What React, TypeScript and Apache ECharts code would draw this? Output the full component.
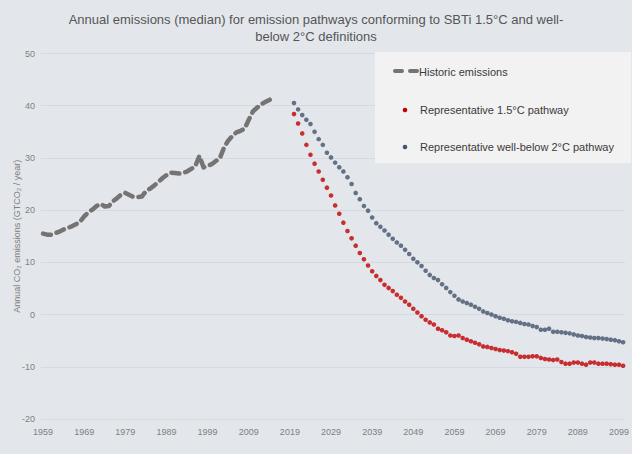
import React, { useEffect, useRef } from "react";
import * as echarts from "echarts";

const FIRST_YEAR = 1959;
const LAST_YEAR = 2100;
const HIST_START = 1959;
const PATH_START = 2020;

const titleLines = [
  "Annual emissions (median) for emission pathways conforming to SBTi 1.5°C and well-",
  "below 2°C definitions",
];
const yAxisName = "Annual CO₂ emissions (GTCO₂ / year)";
const legendNames = [
  "Historic emissions",
  "Representative 1.5°C pathway",
  "Representative well-below 2°C pathway",
];

// 1959 - 2015
const historic = [
  15.5, 15.3, 15.3, 15.6, 15.9, 16.3, 16.6, 16.9, 17.3, 17.8,
  18.8, 19.6, 20.1, 20.8, 21.2, 20.7, 20.8, 21.7, 22.3, 23.0,
  23.3, 22.9, 22.5, 22.5, 22.6, 23.6, 24.1, 24.7, 25.4, 26.1,
  26.7, 27.2, 27.1, 27.0, 27.1, 27.4, 27.9, 28.4, 30.4, 28.2,
  28.5, 28.8, 29.4, 30.0, 32.0, 33.3, 34.2, 34.9, 35.2, 35.6,
  37.3, 38.9, 39.6, 40.3, 40.7, 41.1, 41.6,
];

// 2020 - 2100
const pathway15 = [
  38.4, 36.6, 34.7, 32.5, 30.6, 28.9, 27.4, 25.8, 24.3, 22.8,
  20.9, 19.3, 17.6, 16.0, 14.6, 13.2, 11.8, 10.6, 9.4, 8.3,
  7.4, 6.6, 5.7, 5.1, 4.5, 3.8, 3.2, 2.5, 1.9, 1.1,
  0.4, -0.3, -1.0, -1.5, -1.9, -2.7, -3.0, -3.4, -4.0, -4.1,
  -4.0, -4.5, -4.8, -5.1, -5.4, -5.7, -6.1, -6.2, -6.4, -6.6,
  -6.8, -6.9, -7.0, -7.2, -7.5, -8.1, -8.1, -8.1, -8.0, -8.0,
  -8.3, -8.5, -8.6, -8.7, -8.6, -9.1, -9.4, -9.4, -9.2, -9.2,
  -9.4, -9.6, -9.2, -9.2, -9.4, -9.4, -9.4, -9.5, -9.6, -9.6,
  -9.8,
];

// 2020 - 2100
const pathwayWB2 = [
  40.5, 39.3, 38.2, 37.3, 36.5, 35.0, 33.6, 32.5, 31.0, 30.1,
  29.1, 28.2, 27.4, 26.3, 25.0, 23.3, 22.1, 20.8, 19.9, 18.6,
  17.5, 16.8, 16.1, 15.3, 14.5, 13.8, 13.2, 12.4, 11.6, 10.7,
  10.0, 9.3, 8.4, 7.6, 7.0, 6.6, 5.8, 5.1, 4.3, 3.6,
  2.9, 2.5, 2.2, 1.9, 1.5, 1.1, 0.6, 0.3, 0.0, -0.3,
  -0.6, -0.8, -1.1, -1.3, -1.4, -1.6, -1.8, -1.9, -2.2, -2.4,
  -2.9, -2.9, -2.7, -3.3, -3.3, -3.4, -3.5, -3.6, -3.8, -4.0,
  -4.1, -4.3, -4.4, -4.5, -4.5, -4.6, -4.7, -4.8, -4.9, -5.1,
  -5.3,
];

const years: string[] = [];
for (let y = FIRST_YEAR; y <= LAST_YEAR; y++) years.push(String(y));

const toPairs = (start: number, vals: number[]) =>
  vals.map((v, i) => [String(start + i), v]);

const COLORS = {
  bg: "#e3e7ec",
  grid: "#d5dae0",
  hist: "#767373",
  red: "#c00000",
  blue: "#44546a",
  text: "#555555",
  tick: "#808080",
  legendBg: "#f2f2f2",
  legendText: "#3a3a3a",
};

export default function App() {
  const ref = useRef<HTMLDivElement>(null);
  useEffect(() => {
    if (!ref.current) return;
    const chart = echarts.init(ref.current, undefined, { renderer: "svg" });
    const font = "'Liberation Sans', Arial, sans-serif";
    chart.setOption({
      animation: false,
      backgroundColor: COLORS.bg,
      textStyle: { fontFamily: font },
      title: {
        text: titleLines.join("\n"),
        left: "center",
        top: 6,
        textStyle: {
          fontFamily: font,
          fontSize: 13,
          fontWeight: "normal",
          color: COLORS.text,
          lineHeight: 17,
        },
      },
      grid: { left: 41, right: 5, top: 53.5, bottom: 35, containLabel: false },
      xAxis: {
        type: "category",
        data: years,
        boundaryGap: true,
        axisLine: { show: false },
        axisTick: { show: false },
        axisLabel: {
          interval: 9,
          color: COLORS.tick,
          fontSize: 9,
          margin: 8,
          fontFamily: font,
        },
        splitLine: { show: false },
      },
      yAxis: {
        type: "value",
        min: -20,
        max: 50,
        interval: 10,
        name: yAxisName,
        nameLocation: "middle",
        nameGap: 20,
        nameMoveOverlap: false,
        nameTextStyle: { color: COLORS.tick, fontSize: 9, fontFamily: font },
        axisLine: { show: false },
        axisTick: { show: false },
        axisLabel: { color: COLORS.tick, fontSize: 9, margin: 6, fontFamily: font },
        splitLine: { lineStyle: { color: COLORS.grid, width: 1 } },
      },
      series: [
        {
          name: legendNames[0],
          type: "line",
          data: toPairs(HIST_START, historic),
          showSymbol: false,
          symbol: "none",
          smooth: false,
          lineStyle: { color: COLORS.hist, width: 4.5, type: [8, 6], cap: "round", join: "round" },
          z: 3,
        },
        {
          name: legendNames[1],
          type: "scatter",
          data: toPairs(PATH_START, pathway15),
          symbol: "circle",
          symbolSize: 4.6,
          itemStyle: { color: COLORS.red },
          z: 4,
        },
        {
          name: legendNames[2],
          type: "scatter",
          data: toPairs(PATH_START, pathwayWB2),
          symbol: "circle",
          symbolSize: 4.6,
          itemStyle: { color: COLORS.blue },
          z: 4,
        },
      ],
      graphic: [
        {
          type: "rect",
          shape: { x: 375, y: 52, width: 256, height: 111 },
          style: { fill: COLORS.legendBg },
          z: 10,
        },
        {
          type: "line",
          shape: { x1: 395, y1: 71, x2: 402, y2: 71 },
          style: { stroke: COLORS.hist, lineWidth: 4, lineCap: "round" },
          z: 11,
        },
        {
          type: "line",
          shape: { x1: 410, y1: 71, x2: 417, y2: 71 },
          style: { stroke: COLORS.hist, lineWidth: 4, lineCap: "round" },
          z: 11,
        },
        {
          type: "text",
          x: 419,
          y: 71.5,
          style: {
            text: legendNames[0],
            fill: COLORS.legendText,
            font: `11px ${font}`,
            verticalAlign: "middle",
          },
          z: 11,
        },
        {
          type: "circle",
          shape: { cx: 405, cy: 110, r: 2.3 },
          style: { fill: COLORS.red },
          z: 11,
        },
        {
          type: "text",
          x: 420,
          y: 110,
          style: {
            text: legendNames[1],
            fill: COLORS.legendText,
            font: `11px ${font}`,
            verticalAlign: "middle",
          },
          z: 11,
        },
        {
          type: "circle",
          shape: { cx: 405, cy: 147, r: 2.3 },
          style: { fill: COLORS.blue },
          z: 11,
        },
        {
          type: "text",
          x: 420,
          y: 147,
          style: {
            text: legendNames[2],
            fill: COLORS.legendText,
            font: `11px ${font}`,
            verticalAlign: "middle",
          },
          z: 11,
        },
      ],
    });
    return () => chart.dispose();
  }, []);
  return (
    <div
      ref={ref}
      style={{ position: "fixed", left: 0, top: 0, width: 632, height: 454 }}
    />
  );
}
